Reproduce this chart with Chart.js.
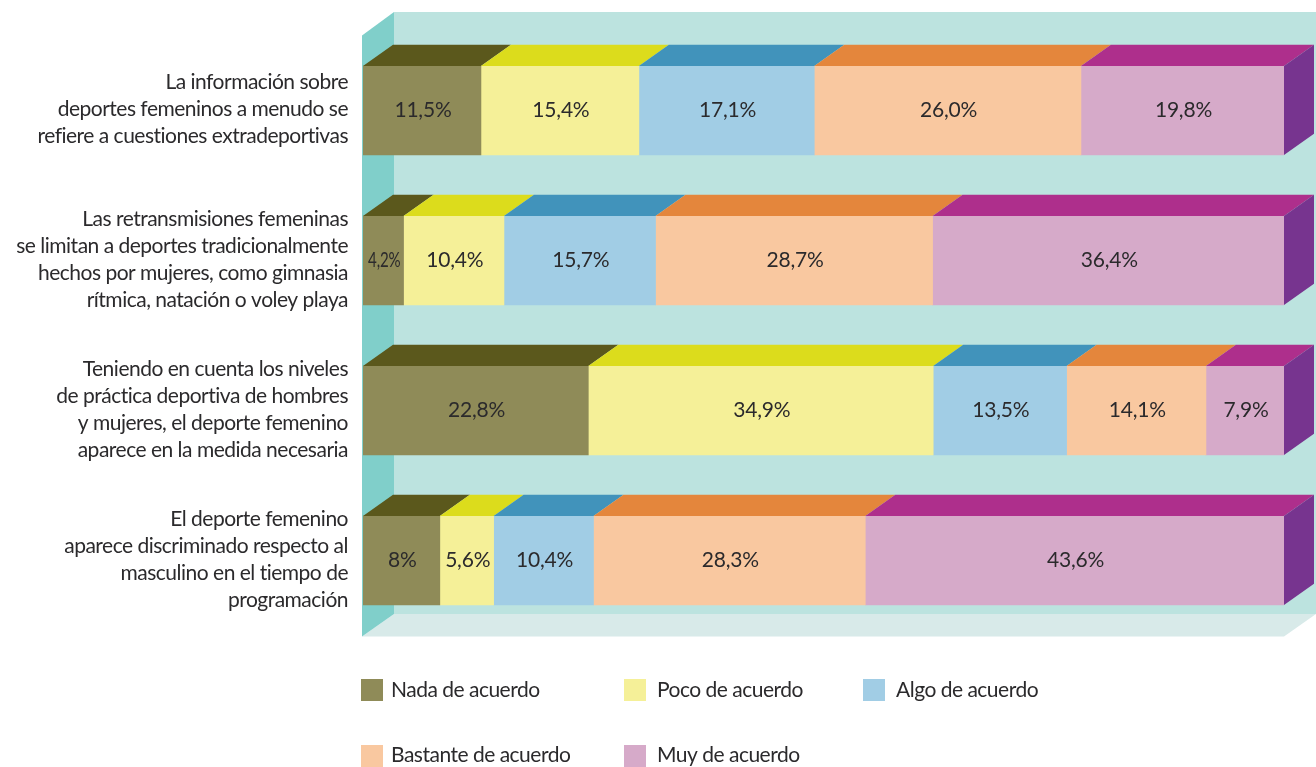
<!DOCTYPE html>
<html lang="es">
<head>
<meta charset="utf-8">
<title>Deporte femenino</title>
<script src="https://cdn.jsdelivr.net/npm/chart.js@4/dist/chart.umd.min.js"></script>
<style>
  html, body { margin: 0; padding: 0; background: #fff; overflow: hidden; }
  canvas { display: block; }
</style>
</head>
<body>
<canvas id="chart" width="1316" height="767"></canvas>
<script>
const categories = [
  ['La información sobre', 'deportes femeninos a menudo se', 'refiere a cuestiones extradeportivas'],
  ['Las retransmisiones femeninas', 'se limitan a deportes tradicionalmente', 'hechos por mujeres, como gimnasia', 'rítmica, natación o voley playa'],
  ['Teniendo en cuenta los niveles', 'de práctica deportiva de hombres', 'y mujeres, el deporte femenino', 'aparece en la medida necesaria'],
  ['El deporte femenino', 'aparece discriminado respecto al', 'masculino en el tiempo de', 'programación']
];
const seriesNames = ['Nada de acuerdo', 'Poco de acuerdo', 'Algo de acuerdo', 'Bastante de acuerdo', 'Muy de acuerdo'];
const nada = [11.5, 4.2, 22.8, 8];
const poco = [15.4, 10.4, 34.9, 5.6];
const algo = [17.1, 15.7, 13.5, 10.4];
const bastante = [26, 28.7, 14.1, 28.3];
const muy = [19.8, 36.4, 7.9, 43.6];
const seriesValues = [nada, poco, algo, bastante, muy];
const frontColors = ['#8f8b58', '#f5f098', '#a1cde5', '#f9c8a0', '#d6aac9'];
const topColors = ['#5b581c', '#dcdc1c', '#4193bb', '#e4863c', '#ae2f8c'];

const FONT = 'Lato, sans-serif';
const TEXT = '#2b2a2c';

// the printed values do not add up to 100, the bars still fill the full width
const rowTotals = categories.map((_, r) => seriesValues.reduce((sum, s) => sum + s[r], 0));

function poly(ctx, color, pts) {
  ctx.fillStyle = color;
  ctx.beginPath();
  pts.forEach((p, i) => (i ? ctx.lineTo(p[0], p[1]) : ctx.moveTo(p[0], p[1])));
  ctx.closePath();
  ctx.fill();
}

// the source prints one decimal everywhere except the plain 8%
function valueText(v) {
  return (v === 8 ? '8' : v.toFixed(1).replace('.', ',')) + '%';
}

// Lato runs wider than the book's font, tighten all text a little
const tightText = {
  id: 'tightText',
  beforeDraw(chart) {
    chart.ctx.letterSpacing = '-0.5px';
  }
};

// back wall, left wall and floor behind the bars
const walls = {
  id: 'walls',
  beforeDatasetsDraw(chart) {
    const { ctx, chartArea: a } = chart;
    const dx = 32, l = a.left - 1;
    const top = a.top - 23.5, bottom = a.bottom - 21.5;
    poly(ctx, '#bce3df', [[l + dx, top], [1316, top], [1316, bottom], [l + dx, bottom]]);
    poly(ctx, '#d8eae9', [[l, a.bottom + 1], [l + dx, bottom], [1316, bottom], [a.right, a.bottom + 1]]);
    poly(ctx, '#80cfca', [[l, a.top], [l + dx, top], [l + dx, bottom], [l, a.bottom + 1]]);
  }
};

// top and side faces of the bars, taken from the bar elements
const faces = {
  id: 'faces',
  afterDatasetsDraw(chart) {
    const { ctx } = chart;
    const dx = 30, dy = 21.3;
    seriesValues.forEach((_, s) => {
      chart.getDatasetMeta(s).data.forEach(bar => {
        const top = bar.y - bar.height / 2;
        const bottom = bar.y + bar.height / 2;
        poly(ctx, topColors[s], [[bar.base, top], [bar.base + dx, top - dy], [bar.x + dx, top - dy], [bar.x, top]]);
        if (s === seriesValues.length - 1) {
          poly(ctx, '#77348f', [[bar.x, top], [bar.x + dx, top - dy], [bar.x + dx, bottom - dy], [bar.x, bottom]]);
        }
      });
    });
  }
};

const valueLabels = {
  id: 'valueLabels',
  afterDraw(chart) {
    const { ctx } = chart;
    ctx.save();
    ctx.font = '21px ' + FONT;
    ctx.letterSpacing = '-0.2px';
    ctx.fillStyle = TEXT;
    ctx.textAlign = 'center';
    ctx.textBaseline = 'middle';
    seriesValues.forEach((values, s) => {
      chart.getDatasetMeta(s).data.forEach((bar, r) => {
        const text = valueText(values[r]);
        const room = bar.x - bar.base - 8;
        const squeeze = Math.min(1, room / ctx.measureText(text).width);
        ctx.save();
        ctx.translate((bar.x + bar.base) / 2 + 1, bar.y);
        ctx.scale(squeeze, 1);
        ctx.fillText(text, 0, 0);
        ctx.restore();
      });
    });
    ctx.restore();
  }
};

const legendBoxes = {
  id: 'legendBoxes',
  afterDraw(chart) {
    const { ctx } = chart;
    const boxX = [361, 624, 863, 361, 624];
    const boxY = [679, 679, 679, 745, 745];
    const textX = [391, 657, 896, 391, 657];
    const textY = [690, 690, 690, 755, 755];
    ctx.save();
    ctx.font = '21px ' + FONT;
    ctx.textBaseline = 'middle';
    seriesNames.forEach((name, i) => {
      ctx.fillStyle = frontColors[i];
      ctx.fillRect(boxX[i], boxY[i], 22, 22);
      ctx.fillStyle = TEXT;
      ctx.fillText(name, textX[i], textY[i]);
    });
    ctx.restore();
  }
};

new Chart(document.getElementById('chart'), {
  type: 'bar',
  data: {
    labels: categories,
    datasets: seriesNames.map((name, s) => ({
      label: name,
      data: seriesValues[s].map((v, r) => v / rowTotals[r] * 100),
      backgroundColor: frontColors[s],
      borderWidth: 0,
      barThickness: 89
    }))
  },
  options: {
    indexAxis: 'y',
    responsive: false,
    animation: false,
    layout: { padding: { top: 35.5, bottom: 131.5, right: 32, left: 0 } },
    plugins: { legend: { display: false }, tooltip: { enabled: false } },
    scales: {
      x: { stacked: true, min: 0, max: 100, display: false },
      y: {
        stacked: true,
        grid: { display: false, drawTicks: false },
        border: { display: false },
        afterFit(scale) {
          scale.width = 363;
          scale.paddingTop = 0;
          scale.paddingBottom = 0;
        },
        ticks: {
          autoSkip: false,
          padding: 15,
          labelOffset: -1,
          color: TEXT,
          font: { family: FONT, size: 21, lineHeight: 1.286 }
        }
      }
    }
  },
  plugins: [tightText, walls, faces, valueLabels, legendBoxes]
});
</script>
</body>
</html>
